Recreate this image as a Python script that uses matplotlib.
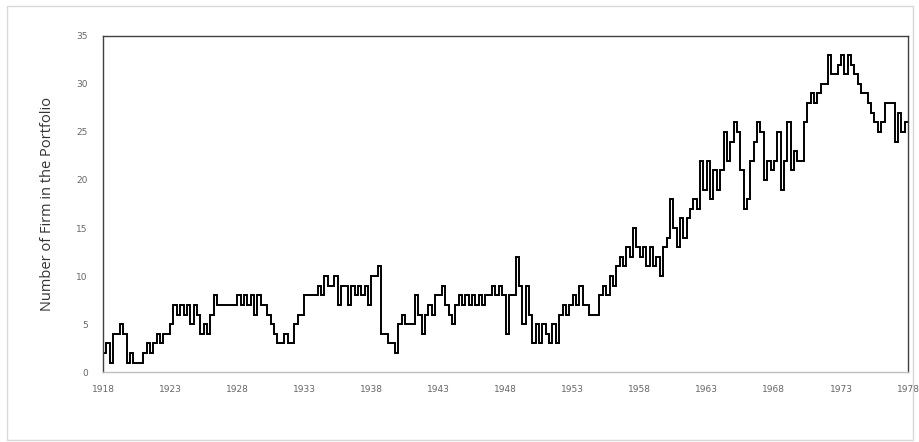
"""
Number of firms in the portfolio, 1918-1978 (quarterly readings, step line).
"""

import matplotlib

matplotlib.use("Agg")

import matplotlib.pyplot as plt
import numpy as np
from matplotlib.patches import Rectangle

# ---------------------------------------------------------------------------
# Data: firm count per quarter, one row per year (Q1..Q4)
# ---------------------------------------------------------------------------

START_YEAR = 1918
firm_counts = [
    2, 3, 1, 4,  # 1918
    4, 5, 4, 1,  # 1919
    2, 1, 1, 1,  # 1920
    2, 3, 2, 3,  # 1921
    4, 3, 4, 4,  # 1922
    5, 7, 6, 7,  # 1923
    6, 7, 5, 7,  # 1924
    6, 4, 5, 4,  # 1925
    6, 8, 7, 7,  # 1926
    7, 7, 7, 7,  # 1927
    8, 7, 8, 7,  # 1928
    8, 6, 8, 7,  # 1929
    7, 6, 5, 4,  # 1930
    3, 3, 4, 3,  # 1931
    3, 5, 6, 6,  # 1932
    8, 8, 8, 8,  # 1933
    9, 8, 10, 9,  # 1934
    9, 10, 7, 9,  # 1935
    9, 7, 9, 8,  # 1936
    9, 8, 9, 7,  # 1937
    10, 10, 11, 4,  # 1938
    4, 3, 3, 2,  # 1939
    5, 6, 5, 5,  # 1940
    5, 8, 6, 4,  # 1941
    6, 7, 6, 8,  # 1942
    8, 9, 7, 6,  # 1943
    5, 7, 8, 7,  # 1944
    8, 7, 8, 7,  # 1945
    8, 7, 8, 8,  # 1946
    9, 8, 9, 8,  # 1947
    4, 8, 8, 12,  # 1948
    9, 5, 9, 6,  # 1949
    3, 5, 3, 5,  # 1950
    4, 3, 5, 3,  # 1951
    6, 7, 6, 7,  # 1952
    8, 7, 9, 7,  # 1953
    7, 6, 6, 6,  # 1954
    8, 9, 8, 10,  # 1955
    9, 11, 12, 11,  # 1956
    13, 12, 15, 13,  # 1957
    12, 13, 11, 13,  # 1958
    11, 12, 10, 13,  # 1959
    14, 18, 15, 13,  # 1960
    16, 14, 16, 17,  # 1961
    18, 17, 22, 19,  # 1962
    22, 18, 21, 19,  # 1963
    21, 25, 22, 24,  # 1964
    26, 25, 21, 17,  # 1965
    18, 22, 24, 26,  # 1966
    25, 20, 22, 21,  # 1967
    22, 25, 19, 22,  # 1968
    26, 21, 23, 22,  # 1969
    22, 26, 28, 29,  # 1970
    28, 29, 30, 30,  # 1971
    33, 31, 31, 32,  # 1972
    33, 31, 33, 32,  # 1973
    31, 30, 29, 29,  # 1974
    28, 27, 26, 25,  # 1975
    26, 28, 28, 28,  # 1976
    24, 27, 25, 26,  # 1977
]

x_ticks = list(range(1918, 1979, 5))
y_ticks = [0, 5, 10, 15, 20, 25, 30, 35]

TICK_FONT = ["Liberation Sans Narrow", "DejaVu Sans"]
LABEL_FONT = ["Open Sans", "DejaVu Sans"]


def main() -> None:
    vals = np.asarray(firm_counts, dtype=float)
    edges = START_YEAR + np.arange(len(vals) + 1) / 4.0

    fig = plt.figure(figsize=(9.2, 4.42), dpi=100)
    fig.patches.append(
        Rectangle((0.008, 0.005), 0.984, 0.982, transform=fig.transFigure,
                  fill=False, edgecolor="#d9d9d9", lw=1.0)
    )
    ax = fig.add_axes([0.112, 0.158, 0.875, 0.761])

    ax.stairs(vals, edges, baseline=None, color="black", lw=1.4)

    ax.set_xlim(1918, 1978)
    ax.set_ylim(0, 35)
    ax.set_xticks(x_ticks)
    ax.set_yticks(y_ticks)
    ax.tick_params(length=0, labelsize=6.5, labelcolor="#666666")
    ax.tick_params(axis="x", pad=9)
    ax.tick_params(axis="y", pad=11)
    for lab in ax.get_xticklabels() + ax.get_yticklabels():
        lab.set_family(TICK_FONT)

    for side in ("left", "top", "right"):
        ax.spines[side].set_color("#404040")
        ax.spines[side].set_linewidth(1.0)
    ax.spines["bottom"].set_color("#bfbfbf")
    ax.spines["bottom"].set_linewidth(1.0)

    ax.set_ylabel("Number of Firm in the Portfolio", family=LABEL_FONT,
                  fontsize=10.5, color="#333333", labelpad=15)

    fig.savefig("out.png", dpi=100)
    plt.close(fig)


if __name__ == "__main__":
    main()
